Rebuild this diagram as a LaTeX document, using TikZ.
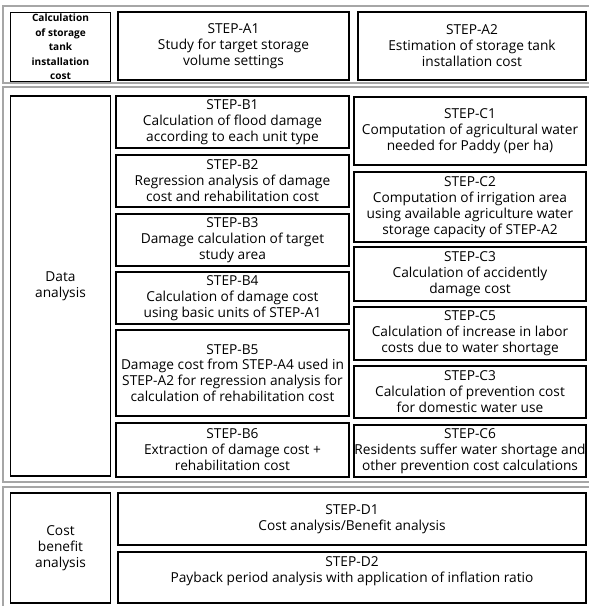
\documentclass[tikz,border=0pt]{standalone}
\usepackage{fontspec}
\setmainfont{Open Sans}
\begin{document}
\begin{tikzpicture}[x=0.03cm,y=-0.03cm]
    % Define style for panels and boxes
    \tikzstyle{panel} = [draw=gray!70, line width=1.3pt]
    \tikzstyle{stepbox} = [draw, rectangle, line width=1.6pt, inner sep=0pt, align=center, font=\fontsize{11.7}{13.6}\selectfont]
    \tikzstyle{headbox} = [stepbox, font=\fontsize{8.6}{12.4}\selectfont\bfseries]

    \useasboundingbox (0,0) rectangle (589,606);

    % Draw the three panels
    \draw[panel] (595,6) -| (3,83) -- (595,83);
    \draw[panel] (595,87) -| (3,482) -- (595,482);
    \draw[panel] (595,487) -| (3,612);

    % Draw the boxes
    \foreach \nm/\xa/\ya/\xb/\yb/\txt in {
        a1/118/12/349/80/{STEP-A1\\Study for target storage\\volume settings},
        a2/358/12/586/80/{STEP-A2\\Estimation of storage tank\\installation cost},
        b1/116/96/349/148/{STEP-B1\\Calculation of flood damage\\according to each unit type},
        b2/116/155/349/207/{STEP-B2\\Regression analysis of damage\\cost and rehabilitation cost},
        b3/116/214/349/266/{STEP-B3\\Damage calculation of target\\study area},
        b4/116/272/349/324/{STEP-B4\\Calculation of damage cost\\using basic units of STEP-A1},
        b5/116/330/349/416/{STEP-B5\\Damage cost from STEP-A4 used in\\STEP-A2 for regression analysis for\\calculation of rehabilitation cost},
        b6/116/423/349/477/{STEP-B6\\Extraction of damage cost +\\rehabilitation cost},
        c1/354/97/586/165/{STEP-C1\\Computation of agricultural water\\needed for Paddy (per ha)},
        c2/354/172/586/242/{STEP-C2\\Computation of irrigation area\\using available agriculture water\\storage capacity of STEP-A2},
        c3/354/247/586/301/{STEP-C3\\Calculation of accidently\\damage cost},
        c5/354/307/586/360/{STEP-C5\\Calculation of increase in labor\\costs due to water shortage},
        c3b/354/366/586/418/{STEP-C3\\Calculation of prevention cost\\for domestic water use},
        c6/354/425/586/477/{STEP-C6\\Residents suffer water shortage and\\other prevention cost calculations},
        d1/118/493/586/545/{STEP-D1\\Cost analysis/Benefit analysis},
        d2/118/552/586/603/{STEP-D2\\Payback period analysis with application of inflation ratio\\~}} {
        \node[stepbox, minimum width={(\xb-\xa)*0.03cm}, minimum height={(\yb-\ya)*0.03cm}]
            (\nm) at ({(\xa+\xb)/2},{(\ya+\yb)/2}) {\txt};
      }

    % Row titles
    \node[headbox, minimum width=3cm, minimum height=2.07cm] (tank) at (60.5,47) {Calculation\\of storage\\tank\\installation\\cost};
    \node[stepbox, minimum width=3cm, minimum height=11.4cm] (data) at (60.5,286) {Data\\analysis};
    \node[stepbox, minimum width=3cm, minimum height=3.3cm] (cost) at (60.5,548) {Cost\\benefit\\analysis};
\end{tikzpicture}
\end{document}
